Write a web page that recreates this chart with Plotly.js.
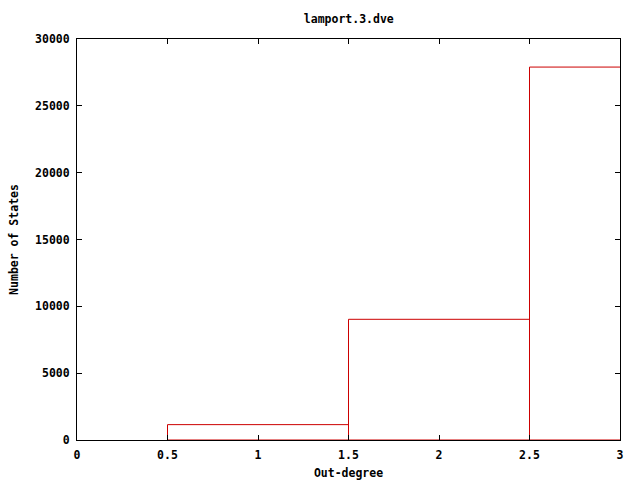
<!DOCTYPE html>
<html>
<head>
<meta charset="utf-8">
<script src="https://cdn.plot.ly/plotly-3.0.1.min.js"></script>
<style>html,body{margin:0;padding:0;background:#fff;}#chart{width:640px;height:480px;}</style>
</head>
<body>
<div id="chart"></div>
<script>
const outDegree = [1, 2, 3];
const numStates = [1150, 9030, 27900];
const xTicks = [0, 0.5, 1, 1.5, 2, 2.5, 3];
const xTickLabels = ["0", "0.5", "1", "1.5", "2", "2.5", "3"];
const yTicks = [0, 5000, 10000, 15000, 20000, 25000, 30000];

const font = {family: "DejaVu Sans Mono", size: 11.5, color: "#000", weight: "bold"};

const trace = {
  type: "bar",
  x: outDegree,
  y: numStates,
  width: 1,
  marker: {color: "rgba(0,0,0,0)", line: {color: "#cc0000", width: 1}},
  hoverinfo: "skip"
};

const axisCommon = {
  showgrid: false,
  zeroline: false,
  showline: true,
  linecolor: "#000",
  linewidth: 1,
  mirror: "ticks",
  ticks: "inside",
  ticklen: 5,
  tickwidth: 1,
  tickcolor: "#000",
  tickfont: font,
  automargin: false
};

const layout = {
  width: 640,
  height: 480,
  margin: {l: 77, r: 20, t: 39, b: 40},
  paper_bgcolor: "#fff",
  plot_bgcolor: "#fff",
  showlegend: false,
  font: font,
  title: {text: "lamport.3.dve", font: font, x: 0.545, xanchor: "center", y: 1 - 19/480, yanchor: "middle", yref: "container"},
  xaxis: Object.assign({}, axisCommon, {
    range: [0, 3],
    tickmode: "array",
    tickvals: xTicks,
    ticktext: xTickLabels,
    ticklabelstandoff: 4,
    title: {text: "Out-degree", font: font, standoff: 8}
  }),
  yaxis: Object.assign({}, axisCommon, {
    range: [0, 30000],
    tickmode: "array",
    tickvals: yTicks,
    ticktext: yTicks.map(String),
    ticklabelstandoff: 4,
    title: {text: "Number of States", font: font, standoff: 14}
  })
};

Plotly.newPlot("chart", [trace], layout, {displayModeBar: false, staticPlot: true});
</script>
</body>
</html>
